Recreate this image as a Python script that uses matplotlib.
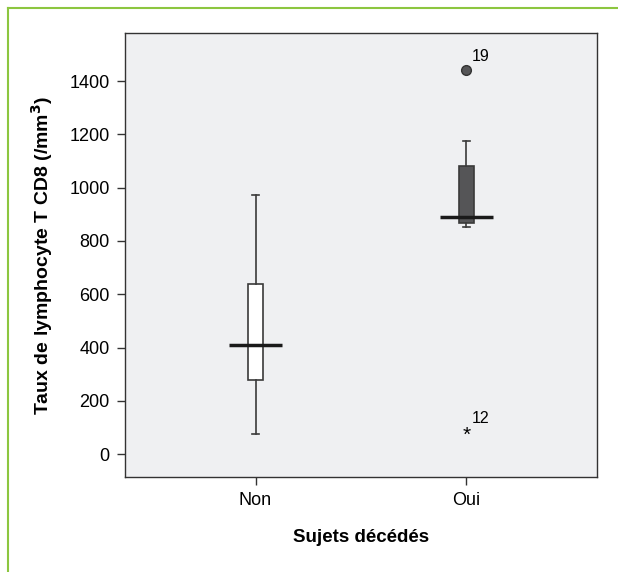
import matplotlib.pyplot as plt
from matplotlib.lines import Line2D

plt.rcParams['font.family'] = ['Liberation Sans', 'DejaVu Sans']

# data
groups = ['Non', 'Oui']
q1 = [278, 867]
med = [409, 890]
q3 = [638, 1081]
whislo = [75, 852]
whishi = [973, 1175]
outliers = [[], [1441]]
outlier_ids = [[], ['19']]
extremes = [[], [79]]
extreme_ids = [[], ['12']]
box_colors = ['white', '#555557']
yticks = [0, 200, 400, 600, 800, 1000, 1200, 1400]

fig = plt.figure(figsize=(6.18, 5.72), dpi=100)
ax = fig.add_axes([0.202, 0.166, 0.764, 0.776])
ax.set_facecolor('#eff0f2')

pos = [1, 2]
stats = []
for i, g in enumerate(groups):
    stats.append(dict(label=g, q1=q1[i], med=med[i], q3=q3[i],
                      whislo=whislo[i], whishi=whishi[i], fliers=outliers[i]))

bp = ax.bxp(stats, positions=pos, widths=0.07, patch_artist=True,
            boxprops=dict(edgecolor='#3a3a3a', linewidth=1.2),
            whiskerprops=dict(color='#3a3a3a', linewidth=1.2),
            capprops=dict(color='#3a3a3a', linewidth=1.2),
            medianprops=dict(linewidth=0),
            flierprops=dict(marker='o', markersize=7, markerfacecolor='#555557',
                            markeredgecolor='#333333'))
for patch, c in zip(bp['boxes'], box_colors):
    patch.set_facecolor(c)

# wide median bars
for p, m in zip(pos, med):
    ax.hlines(m, p - 0.125, p + 0.125, color='#1a1a1a', linewidth=2.5, zorder=5)

# outlier labels
for p, vals, ids in zip(pos, outliers, outlier_ids):
    for v, t in zip(vals, ids):
        ax.text(p + 0.028, v + 25, t, fontsize=11.5, va='bottom', ha='left')
for p, vals, ids in zip(pos, extremes, extreme_ids):
    for v, t in zip(vals, ids):
        ax.text(p, v - 8, '*', fontsize=15, ha='center', va='center')
        ax.text(p + 0.028, v + 25, t, fontsize=11.5, va='bottom', ha='left')

ax.set_xlim(0.38, 2.62)
ax.set_ylim(-86, 1580)
ax.set_xticks(pos)
ax.set_xticklabels(groups, fontsize=13)
ax.set_yticks(yticks)
ax.set_yticklabels([str(y) for y in yticks], fontsize=13)
ax.tick_params(length=6, width=1, color='#333333', pad=5)
for s in ax.spines.values():
    s.set_color('#333333')
    s.set_linewidth(1)

ax.set_xlabel('Sujets décédés', fontsize=13.5, fontweight='bold', labelpad=14)
ax.set_ylabel('Taux de lymphocyte T CD8 (/mm$^\\mathbf{3}$)', fontsize=14,
              fontweight='bold', labelpad=10)

# green frame lines
fig.add_artist(Line2D([8 / 618, 1], [1 - 8 / 572, 1 - 8 / 572], color='#8cc63f',
                      linewidth=1.5, transform=fig.transFigure))
fig.add_artist(Line2D([8 / 618, 8 / 618], [0, 1 - 8 / 572], color='#8cc63f',
                      linewidth=1.5, transform=fig.transFigure))

fig.savefig('out.png', dpi=100)
